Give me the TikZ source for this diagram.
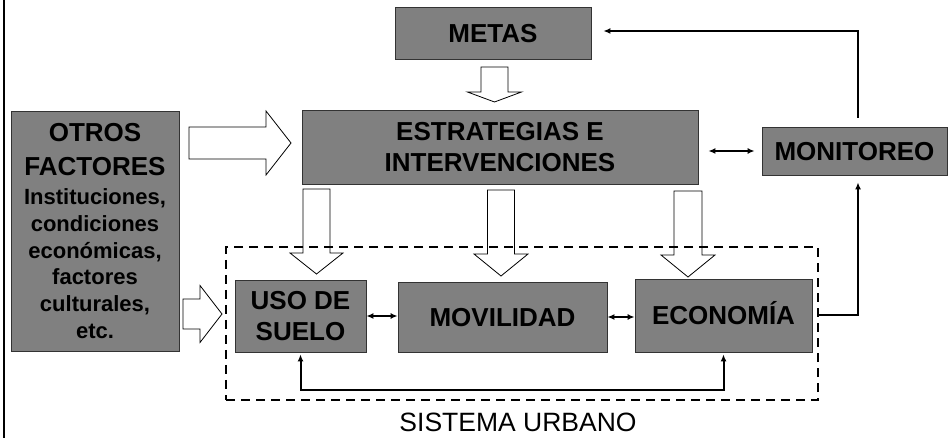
\documentclass[tikz,border=0pt]{standalone}
\usepackage{fontspec}
\setmainfont{Liberation Sans}
\usetikzlibrary{arrows.meta,calc}
\definecolor{boxgray}{RGB}{128,128,128}
\newcommand\blkdown[6]{% cx, top, headtop, tip, shaft half, head half
  \draw[blk] (#1-#5,#2) -- (#1+#5,#2) -- (#1+#5,#3) -- (#1+#6,#3) -- (#1,#4) -- (#1-#6,#3) -- (#1-#5,#3) -- cycle;}
\newcommand\blkright[6]{% cy, left, headstart, tip, shaft half, head half
  \draw[blk] (#2,#1-#5) -- (#3,#1-#5) -- (#3,#1-#6) -- (#4,#1) -- (#3,#1+#6) -- (#3,#1+#5) -- (#2,#1+#5) -- cycle;}
\newcommand\smallf{\fontsize{22}{26.8}\selectfont}
\begin{document}
\begin{tikzpicture}[x=1pt,y=-1pt,
  box/.style={draw=black!80, line width=0.8pt, fill=boxgray, inner sep=0pt,
    font=\fontsize{26}{31}\selectfont\bfseries, align=center},
  one/.style={text height=18.6pt, text depth=0pt},
  blk/.style={draw=black, line width=0.8pt, fill=white},
  conn/.style={draw=black, line width=2pt, -{Latex[length=7pt,width=6pt]}},
  bconn/.style={draw=black, line width=2pt, {Latex[length=7pt,width=6pt]}-{Latex[length=7pt,width=6pt]}}]
\useasboundingbox (0,0) rectangle (948,438);
\draw[line width=2pt] (4,0) -- (4,438);

% block arrows
\blkright{143}{189}{266}{291}{16}{32}
\blkright{314}{183}{200}{222}{15}{28.5}
\blkdown{494.5}{67}{92}{102}{13.5}{27}
\blkdown{316.5}{189}{253}{274}{13.5}{26.5}
\blkdown{501}{190}{254}{276}{13.5}{27}
\blkdown{688}{191}{255}{277}{14}{27}

% system boundary
\node[draw=black, line width=2.3pt, dash pattern=on 9pt off 6pt, minimum width=592pt, minimum height=153pt, inner sep=0pt] (sys) at (522,323.5) {};
\node[font=\fontsize{26.5}{31}\selectfont, text height=18.9pt, text depth=0pt, inner sep=0pt] (syslbl) at (518,422) {SISTEMA URBANO};

% boxes
\node[box, font=\fontsize{26}{26.8}\selectfont\bfseries, minimum width=168pt, minimum height=240pt] (otros) at (95,231)
  {OTROS\\[7.2pt]FACTORES\\[2.2pt]\smallf Instituciones,\\\smallf condiciones\\\smallf económicas,\\\smallf factores\\\smallf culturales,\\\smallf etc.};
\node[box, one, minimum width=196pt, minimum height=52pt] (metas) at (493,33) {METAS};
\node[box, minimum width=396pt, minimum height=74pt] (estr) at (500,147) {ESTRATEGIAS E\\INTERVENCIONES};
\node[box, one, minimum width=185pt, minimum height=48pt] (mon) at (854.5,151) {MONITOREO};
\node[box, minimum width=131pt, minimum height=72pt] (uso) at (300.5,316) {USO DE\\SUELO};
\node[box, one, minimum width=209pt, minimum height=70pt] (mov) at (502.5,317) {MOVILIDAD};
\node[box, one, minimum width=177pt, minimum height=73pt] (eco) at (723.5,315.5) {ECONOMÍA};

% connectors
\draw[bconn] (uso.east) -- (uso.east -| mov.west);
\draw[bconn] (mov.east) -- (mov.east -| eco.west);
\draw[bconn, shorten <=10pt, shorten >=7pt] (estr.east |- mon.west) -- (mon.west);
\draw[bconn, shorten <=2pt, shorten >=2pt] (eco.south) -- ++(0,38) -| (uso.south);
\draw[conn, shorten >=7pt] (sys.east |- eco.east) -| ([xshift=3.5pt]mon.south);
\draw[conn, shorten <=9pt, shorten >=12pt] ([xshift=3.5pt]mon.north) |- ([yshift=2pt]metas.east);
\end{tikzpicture}
\end{document}
